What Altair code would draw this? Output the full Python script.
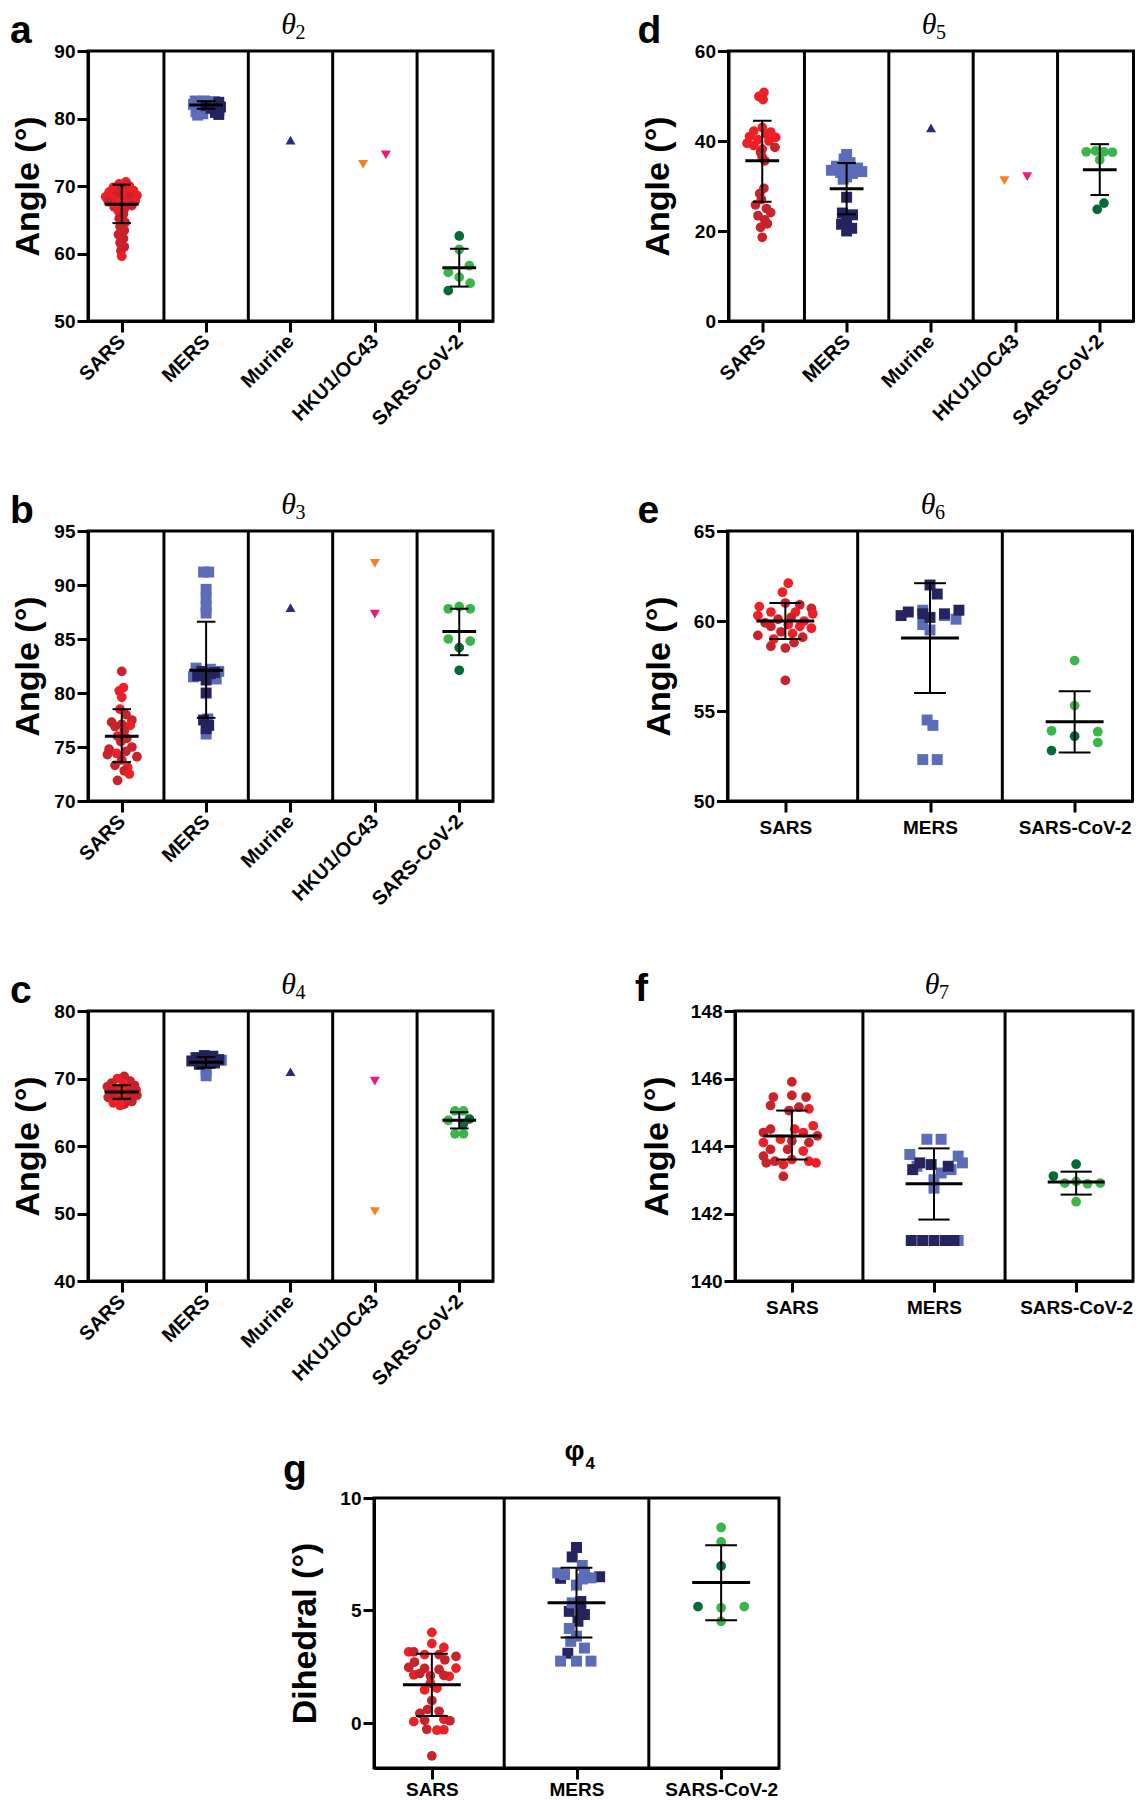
import altair as alt
import pandas as pd

SANS = "Liberation Sans"
SERIF = "Liberation Serif"

CATS5 = ["SARS", "MERS", "Murine", "HKU1/OC43", "SARS-CoV-2"]
CATS3 = ["SARS", "MERS", "SARS-CoV-2"]

# Each point: (value, horizontal jitter in category units, shade 0 = light / 1 = dark)
# ---------------- panel a : theta2
A_SARS = [(70.6, 0.05, 0), (70.3, -0.03, 0), (70.0, 0.09, 0), (69.8, -0.1, 0), (69.6, 0.0, 1), (69.3, 0.14, 0),
          (69.1, -0.15, 0), (68.9, 0.06, 0), (68.7, -0.06, 1), (68.6, 0.18, 0), (68.4, -0.19, 0), (68.3, 0.1, 1),
          (68.1, -0.11, 0), (68.0, 0.02, 0), (67.8, 0.16, 0), (67.7, -0.16, 1), (67.5, 0.07, 0), (67.3, -0.05, 0),
          (67.1, 0.12, 1), (66.9, -0.09, 0), (66.6, 0.03, 1), (66.3, -0.04, 0), (65.8, 0.02, 1), (65.2, -0.03, 1),
          (64.6, 0.04, 1), (64.0, -0.02, 1), (63.4, 0.03, 1), (62.8, -0.04, 1), (62.2, 0.02, 1), (61.6, -0.02, 1),
          (61.0, 0.03, 1), (60.4, -0.01, 1), (59.6, 0.0, 0)]
A_MERS = [(82.6, -0.13, 0), (82.6, -0.02, 0), (82.5, 0.1, 0), (82.3, -0.08, 0), (82.2, 0.05, 0), (82.1, -0.15, 0),
          (82.0, 0.12, 0), (81.8, -0.1, 0), (81.4, -0.05, 0), (81.0, -0.12, 0), (80.7, -0.04, 0), (80.5, -0.1, 0),
          (82.4, 0.15, 1), (81.9, 0.0, 1), (81.7, 0.17, 1), (81.5, 0.06, 1), (81.2, 0.15, 1), (80.9, 0.11, 1),
          (80.6, 0.15, 1)]
A_MURINE = [(76.8, 0.0, 0)]
A_HKU = [(73.2, -0.14, 0), (74.6, 0.13, 1)]
A_COV = [(62.6, 0.0, 1), (60.6, 0.0, 0), (58.2, 0.12, 0), (57.2, -0.13, 0), (56.5, 0.0, 0), (55.6, 0.13, 0),
         (54.5, -0.13, 1)]
A_STATS = {"SARS": (67.3, 64.5, 70.2), "MERS": (82.0, 81.45, 82.55), "SARS-CoV-2": (57.9, 55.1, 60.7)}

# ---------------- panel d : theta5
D_SARS = [(50.8, 0.02, 0), (49.9, -0.04, 0), (49.2, 0.01, 0), (43.0, 0.0, 0), (42.2, -0.1, 0), (42.0, 0.1, 0),
          (41.5, 0.05, 0), (41.0, -0.15, 0), (40.8, 0.16, 0), (40.3, -0.05, 0), (40.0, 0.08, 0), (39.5, -0.18, 0),
          (39.0, -0.1, 0), (38.6, 0.15, 1), (38.2, 0.0, 0), (37.5, -0.02, 1), (36.4, 0.0, 1), (35.6, 0.03, 1),
          (29.5, 0.02, 1), (28.3, -0.03, 1), (27.0, -0.01, 1), (25.8, -0.08, 1), (25.0, 0.05, 1), (24.1, 0.1, 1),
          (23.4, -0.05, 1), (22.5, 0.03, 1), (21.6, 0.06, 1), (20.8, -0.02, 1), (18.6, 0.0, 1)]
D_MERS = [(37.0, 0.0, 0), (36.0, -0.03, 0), (35.2, 0.04, 0), (34.4, -0.12, 0), (34.2, 0.0, 0), (34.0, 0.13, 0),
          (33.5, -0.18, 0), (33.2, 0.18, 0), (33.0, -0.07, 0), (32.8, 0.07, 0), (32.0, 0.0, 0), (31.5, -0.04, 0),
          (27.5, 0.0, 1), (24.0, -0.05, 1), (23.6, 0.07, 1), (22.8, 0.0, 1), (21.5, -0.06, 1), (20.6, 0.06, 1),
          (20.0, 0.0, 1)]
D_MURINE = [(42.9, 0.0, 0)]
D_HKU = [(31.2, -0.13, 0), (32.1, 0.14, 1)]
D_COV = [(37.6, -0.16, 0), (37.8, -0.05, 0), (37.6, 0.05, 0), (37.5, 0.15, 0), (35.8, 0.0, 0), (26.2, 0.05, 1),
         (24.8, -0.03, 1)]
D_STATS = {"SARS": (35.6, 26.5, 44.5), "MERS": (29.4, 23.7, 35.1), "SARS-CoV-2": (33.6, 28.0, 39.3)}

# ---------------- panel b : theta3
B_SARS = [(82.0, 0.0, 1), (80.5, 0.02, 0), (80.2, -0.03, 0), (79.6, 0.0, 0), (78.5, -0.02, 0), (78.0, 0.05, 1),
          (77.5, 0.12, 1), (77.3, -0.12, 1), (77.1, 0.0, 1), (77.0, 0.1, 0), (76.9, -0.08, 1), (76.5, 0.03, 1),
          (76.0, -0.05, 0), (75.8, 0.06, 1), (75.5, -0.01, 1), (75.0, 0.12, 1), (74.8, -0.15, 1), (74.6, 0.05, 1),
          (74.4, -0.06, 0), (74.3, -0.17, 1), (74.1, 0.18, 1), (73.8, 0.0, 1), (73.3, -0.08, 1), (73.1, 0.07, 0),
          (72.8, 0.03, 1), (72.5, 0.09, 0), (71.9, -0.05, 1)]
B_MERS = [(91.2, -0.03, 0), (91.2, 0.03, 0), (89.6, 0.0, 0), (88.8, 0.0, 0), (88.0, 0.0, 0), (87.4, 0.0, 0),
          (82.3, -0.12, 0), (82.0, 0.15, 0), (81.5, -0.15, 0), (81.3, 0.12, 0), (82.2, 0.05, 0), (77.6, 0.02, 0),
          (76.2, 0.0, 0), (82.0, -0.05, 1), (81.8, 0.05, 1), (81.6, -0.1, 1), (81.9, 0.1, 1), (81.2, 0.0, 1),
          (80.0, 0.0, 1), (77.5, -0.03, 1), (77.0, 0.03, 1), (76.7, 0.0, 1)]
B_MURINE = [(87.9, 0.0, 0)]
B_HKU = [(92.0, 0.0, 0), (87.3, 0.0, 1)]
B_COV = [(87.8, -0.13, 0), (88.0, 0.0, 0), (87.8, 0.13, 0), (85.0, -0.13, 0), (84.8, 0.13, 0), (84.2, 0.0, 1),
         (82.1, 0.0, 1)]
B_STATS = {"SARS": (76.0, 73.6, 78.5), "MERS": (82.1, 77.7, 86.6), "SARS-CoV-2": (85.7, 83.5, 87.8)}

# ---------------- panel e : theta6
E_SARS = [(62.1, 0.02, 0), (61.6, -0.02, 0), (61.0, 0.0, 1), (60.9, 0.1, 1), (60.8, -0.18, 0), (60.7, 0.18, 1),
          (60.5, -0.1, 0), (60.5, 0.07, 0), (60.4, 0.19, 0), (60.3, -0.19, 0), (60.2, 0.04, 1), (60.1, -0.05, 1),
          (60.0, 0.13, 0), (59.9, -0.14, 1), (59.8, 0.02, 0), (59.7, 0.1, 0), (59.7, -0.1, 1), (59.6, 0.18, 0),
          (59.4, -0.03, 1), (59.3, 0.05, 0), (59.2, -0.19, 1), (59.1, 0.12, 1), (59.0, -0.08, 0), (58.8, 0.06, 1),
          (58.6, -0.1, 1), (58.5, 0.0, 1), (56.7, 0.0, 1)]
E_MERS = [(60.6, -0.05, 0), (60.1, 0.18, 0), (59.8, -0.05, 0), (59.5, 0.0, 0), (60.3, 0.1, 0), (54.5, -0.02, 0),
          (54.2, 0.02, 0), (52.3, -0.05, 0), (52.3, 0.05, 0), (62.0, 0.0, 1), (61.5, 0.05, 1), (60.6, 0.2, 1),
          (60.5, -0.15, 1), (60.4, -0.05, 1), (60.4, 0.1, 1), (60.3, -0.2, 1), (60.2, 0.0, 1)]
E_COV = [(57.8, 0.0, 0), (55.3, 0.0, 0), (53.9, -0.16, 0), (53.85, 0.16, 0), (53.6, 0.0, 1), (53.25, 0.16, 0),
         (52.8, -0.16, 1)]
E_STATS = {"SARS": (60.0, 59.0, 61.0), "MERS": (59.05, 56.0, 62.1), "SARS-CoV-2": (54.4, 52.7, 56.1)}

# ---------------- panel c : theta4
C_SARS = [(70.3, 0.03, 1), (70.0, -0.05, 0), (69.6, 0.1, 1), (69.3, -0.12, 1), (69.2, 0.02, 0), (69.0, 0.15, 1),
          (68.8, -0.17, 1), (68.6, 0.06, 0), (68.5, -0.07, 1), (68.3, 0.17, 1), (68.1, -0.15, 1), (68.0, 0.0, 0),
          (67.9, 0.1, 1), (67.7, -0.1, 1), (67.5, 0.18, 1), (67.4, 0.03, 0), (67.2, -0.16, 1), (67.0, 0.09, 1),
          (66.8, -0.05, 1), (66.6, 0.12, 1), (66.4, -0.1, 0), (66.2, 0.03, 1), (66.0, -0.02, 0)]
C_MERS = [(72.7, 0.18, 0), (71.2, 0.0, 0), (70.4, 0.0, 0), (73.4, -0.02, 1), (73.3, 0.08, 1), (73.1, -0.12, 1),
          (72.8, 0.15, 1), (72.6, -0.17, 1), (72.5, 0.0, 1), (72.3, 0.1, 1), (72.1, -0.08, 1)]
C_MURINE = [(71.0, 0.0, 0)]
C_HKU = [(50.3, 0.0, 0), (69.6, 0.0, 1)]
C_COV = [(65.2, -0.05, 0), (65.2, 0.05, 0), (63.8, -0.13, 0), (61.8, -0.05, 0), (61.8, 0.05, 0), (64.0, 0.12, 1),
         (63.3, 0.05, 1)]
C_STATS = {"SARS": (68.0, 67.0, 69.0), "MERS": (72.4, 71.6, 73.2), "SARS-CoV-2": (63.8, 62.6, 65.0)}

# ---------------- panel f : theta7
F_SARS = [(145.9, 0.0, 1), (145.45, -0.13, 1), (145.5, 0.0, 1), (145.45, 0.1, 1), (145.2, -0.15, 1),
          (145.15, 0.05, 1), (145.1, 0.12, 0), (145.05, -0.02, 1), (144.6, 0.15, 0), (144.5, -0.15, 1),
          (144.5, 0.02, 0), (144.4, -0.2, 1), (144.4, 0.08, 0), (144.3, 0.18, 0), (144.2, -0.08, 0),
          (144.15, 0.0, 1), (144.1, -0.2, 0), (144.1, 0.12, 1), (143.9, -0.15, 1), (143.9, -0.03, 1),
          (143.85, 0.08, 0), (143.7, -0.2, 1), (143.6, 0.0, 0), (143.55, -0.12, 1), (143.55, 0.12, 0),
          (143.5, -0.18, 1), (143.5, 0.17, 0), (143.45, -0.06, 0), (143.1, -0.06, 1)]
F_MERS = [(144.2, -0.05, 0), (144.2, 0.05, 0), (143.75, -0.17, 0), (143.7, 0.17, 0), (143.5, 0.2, 0),
          (143.4, -0.12, 0), (143.3, 0.12, 0), (143.2, 0.05, 0), (143.0, 0.0, 0), (142.75, 0.0, 0),
          (141.2, 0.17, 0), (143.5, -0.1, 1), (143.45, -0.02, 1), (143.4, 0.1, 1), (143.3, -0.15, 1),
          (141.2, -0.16, 1), (141.2, -0.08, 1), (141.2, 0.0, 1), (141.2, 0.08, 1), (141.2, 0.14, 1)]
F_COV = [(143.46, 0.0, 1), (143.11, -0.16, 1), (142.9, -0.08, 0), (142.95, 0.0, 0), (142.88, 0.08, 0),
         (142.9, 0.17, 0), (142.35, 0.0, 0)]
F_STATS = {"SARS": (144.3, 143.6, 145.05), "MERS": (142.88, 141.82, 143.93), "SARS-CoV-2": (142.93, 142.56, 143.24)}

# ---------------- panel g : phi4
G_SARS = [(4.03, 0.0, 0), (3.53, 0.0, 0), (3.16, -0.16, 0), (3.16, -0.125, 1), (3.04, -0.05, 0), (3.36, 0.083, 0),
          (3.04, 0.05, 1), (2.96, 0.167, 1), (2.81, 0.09, 1), (2.71, -0.12, 1), (2.47, -0.16, 1), (2.44, 0.167, 0),
          (2.43, -0.05, 1), (2.38, 0.05, 1), (2.14, -0.125, 0), (2.2, -0.083, 1), (2.1, -0.01, 1), (2.07, 0.12, 0),
          (2.12, 0.083, 1), (1.77, -0.01, 0), (1.47, -0.05, 0), (1.55, 0.035, 0), (1.0, 0.0, 1), (0.6, -0.03, 1),
          (0.52, 0.05, 1), (0.43, -0.083, 1), (0.06, -0.125, 0), (0.12, -0.05, 1), (0.16, 0.083, 0),
          (0.1, 0.125, 1), (-0.28, -0.035, 1), (-0.32, 0.035, 0), (-0.3, 0.083, 0), (-1.46, 0.0, 1)]
G_MERS = [(7.8, 0.0, 1), (7.38, -0.03, 1), (6.5, 0.16, 1), (6.43, -0.11, 1), (7.0, 0.04, 0), (6.67, -0.13, 0),
          (6.6, -0.083, 0), (6.67, 0.055, 0), (6.45, 0.1, 0), (6.13, 0.0, 0), (6.4, 0.04, 0), (5.4, 0.03, 1),
          (4.96, -0.05, 1), (4.96, 0.03, 1), (4.82, 0.055, 1), (4.52, 0.01, 1), (5.34, -0.03, 0), (3.1, -0.06, 1),
          (4.2, -0.05, 0), (3.86, 0.0, 0), (3.63, -0.04, 0), (3.33, 0.055, 0), (2.75, -0.11, 0), (2.75, 0.0, 0),
          (2.75, 0.1, 0)]
G_COV = [(8.69, 0.0, 0), (8.05, 0.0, 0), (6.98, 0.0, 1), (5.17, -0.16, 1), (5.12, 0.0, 0), (5.17, 0.16, 0),
         (4.52, 0.0, 0)]
G_STATS = {"SARS": (1.7, 0.31, 3.08), "MERS": (5.35, 3.8, 6.9), "SARS-CoV-2": (6.24, 4.57, 7.9)}

# ---------------- styles
PALETTE = {
    "SARS": ("#EE1F25", "#C8222B"),
    "MERS": ("#5B6CB8", "#26245F"),
    "Murine": ("#2A2D7C", "#2A2D7C"),
    "HKU1/OC43": ("#F5821F", "#EC1A7B"),
    "SARS-CoV-2": ("#3BB54A", "#046A38"),
}
SHAPES = {"SARS": "circle", "MERS": "square", "Murine": "triangle-up",
          "HKU1/OC43": "triangle-down", "SARS-CoV-2": "circle"}
SIZES = {"SARS": 95, "MERS": 120, "Murine": 100, "HKU1/OC43": 100, "SARS-CoV-2": 95}


def points_frame(cats, groups):
    rows = []
    for cat, pts in groups.items():
        i = cats.index(cat)
        for v, dx, shade in pts:
            rows.append({"x": i + dx, "y": v, "color": PALETTE[cat][shade],
                         "shape": SHAPES[cat], "size": SIZES[cat]})
    return pd.DataFrame(rows)


def stats_frame(cats, stats):
    rows = []
    for cat, (m, lo, hi) in stats.items():
        i = cats.index(cat)
        rows.append({"x": i, "mean": m, "lo": lo, "hi": hi,
                     "ml": i - 0.2, "mr": i + 0.2, "cl": i - 0.11, "cr": i + 0.11})
    return pd.DataFrame(rows)


def text_mark(txt, x, y, size, font=SANS, weight="bold", style="normal", align="left"):
    return alt.Chart(alt.Data(values=[{"t": txt}])).mark_text(
        font=font, fontWeight=weight, fontStyle=style, fontSize=size, align=align,
        baseline="alphabetic", color="black").encode(text="t:N", x=alt.value(x), y=alt.value(y))


def panel(letter, head, sub, greek_serif, cats, groups, stats, ydom, yticks, ytitle,
          title_x, letter_x, letter_y, rotate=True, W=405, H=270, xpad=6):
    n = len(cats)
    xscale = alt.Scale(domain=[-0.4, n - 0.6], nice=False, zero=False)
    yscale = alt.Scale(domain=ydom, nice=False, zero=False)
    label_expr = "[" + ",".join("'%s'" % c for c in cats) + "][datum.value]"
    if rotate:
        xaxis = alt.Axis(values=list(range(n)), labelExpr=label_expr, title=None, labelOverlap=False,
                         labelAngle=-45, labelAlign="right", labelBaseline="middle", labelPadding=6,
                         labelFontSize=20)
    else:
        xaxis = alt.Axis(values=list(range(n)), labelExpr=label_expr, title=None, labelOverlap=False,
                         labelAngle=0, labelAlign="center", labelBaseline="top", labelPadding=xpad)
    yaxis = alt.Axis(values=yticks, title=ytitle, titleX=title_x, titleY=H / 2, titleAngle=-90,
                     titleAlign="center", titleBaseline="alphabetic", labelPadding=2, format="d",
                     labelOverlap=False)

    def X(f):
        return alt.X(f, type="quantitative", scale=xscale, axis=xaxis)

    def Y(f):
        return alt.Y(f, type="quantitative", scale=yscale, axis=yaxis)

    divs = pd.DataFrame({"d": [k + 0.5 for k in range(n - 1)]})
    dividers = alt.Chart(divs).mark_rule(color="black", strokeWidth=3).encode(
        x=X("d"), y=alt.value(0), y2=alt.value(H))

    pts = alt.Chart(points_frame(cats, groups)).mark_point(
        filled=True, opacity=1, strokeWidth=0).encode(
        x=X("x"), y=Y("y"),
        color=alt.Color("color:N", scale=None),
        shape=alt.Shape("shape:N", scale=None),
        size=alt.Size("size:Q", scale=None))

    st = alt.Chart(stats_frame(cats, stats))
    mean_rule = st.mark_rule(color="black", strokeWidth=3).encode(x=X("ml"), x2="mr", y=Y("mean"))
    whisker = st.mark_rule(color="black", strokeWidth=2).encode(x=X("x"), y=Y("lo"), y2="hi")
    cap_lo = st.mark_rule(color="black", strokeWidth=2).encode(x=X("cl"), x2="cr", y=Y("lo"))
    cap_hi = st.mark_rule(color="black", strokeWidth=2).encode(x=X("cl"), x2="cr", y=Y("hi"))

    lab = text_mark(letter, letter_x, letter_y, 39)
    if greek_serif:
        g1 = text_mark(head, W / 2 - 2, -17, 30, font=SERIF, weight="normal", style="italic", align="center")
        g2 = text_mark(sub, W / 2 + 5, -12, 20, font=SERIF, weight="normal", align="left")
    else:
        g1 = text_mark(head, W / 2 - 2, -38, 28, align="center")
        g2 = text_mark(sub, W / 2 + 9, -29, 17, align="left")

    return alt.layer(dividers, pts, whisker, cap_lo, cap_hi, mean_rule, lab, g1, g2).properties(
        width=W, height=H)


pa = panel("a", "θ", "2", True, CATS5,
           {"SARS": A_SARS, "MERS": A_MERS, "Murine": A_MURINE, "HKU1/OC43": A_HKU, "SARS-CoV-2": A_COV},
           A_STATS, [50, 90], [50, 60, 70, 80, 90], "Angle (°)", -50, -78, -8)
pd_ = panel("d", "θ", "5", True, CATS5,
            {"SARS": D_SARS, "MERS": D_MERS, "Murine": D_MURINE, "HKU1/OC43": D_HKU, "SARS-CoV-2": D_COV},
            D_STATS, [0, 60], [0, 20, 40, 60], "Angle (°)", -60, -91, -8)
pb = panel("b", "θ", "3", True, CATS5,
           {"SARS": B_SARS, "MERS": B_MERS, "Murine": B_MURINE, "HKU1/OC43": B_HKU, "SARS-CoV-2": B_COV},
           B_STATS, [70, 95], [70, 75, 80, 85, 90, 95], "Angle (°)", -50, -78, -8)
pe = panel("e", "θ", "6", True, CATS3,
           {"SARS": E_SARS, "MERS": E_MERS, "SARS-CoV-2": E_COV},
           E_STATS, [50, 65], [50, 55, 60, 65], "Angle (°)", -58, -90, -8, rotate=False)
pc = panel("c", "θ", "4", True, CATS5,
           {"SARS": C_SARS, "MERS": C_MERS, "Murine": C_MURINE, "HKU1/OC43": C_HKU, "SARS-CoV-2": C_COV},
           C_STATS, [40, 80], [40, 50, 60, 70, 80], "Angle (°)", -50, -78, -8)
pf = panel("f", "θ", "7", True, CATS3,
           {"SARS": F_SARS, "MERS": F_MERS, "SARS-CoV-2": F_COV},
           F_STATS, [140, 148], [140, 142, 144, 146, 148], "Angle (°)", -68, -100, -10, rotate=False, W=398)
pg = panel("g", "φ", "4", False, CATS3,
           {"SARS": G_SARS, "MERS": G_MERS, "SARS-CoV-2": G_COV},
           G_STATS, [-2, 10], [0, 5, 10], "Dihedral (°)", -59, -91, -16, rotate=False, xpad=1)


def spacer(w, h):
    return alt.Chart(alt.Data(values=[{"s": 0}])).mark_point(opacity=0).encode(
        x=alt.value(0), y=alt.value(0)).properties(
        width=w, height=h, view=alt.ViewBackground(strokeOpacity=0))


row1 = alt.hconcat(pa, pd_, spacing=140.5)
row2 = alt.hconcat(pb, pe, spacing=140.5)
row3 = alt.hconcat(pc, pf, spacing=138)
row4 = alt.hconcat(spacer(173, 270), pg, spacing=20)
upper = alt.vconcat(row1, row2, row3, spacing=57)

chart = alt.vconcat(upper, row4, spacing=45, padding=0).configure(font=SANS).configure_view(
    stroke="black", strokeWidth=3
).configure_axis(
    domainColor="black", domainWidth=3, tickColor="black", tickWidth=3, tickSize=11,
    labelFont=SANS, labelFontSize=19, labelFontWeight="bold", labelColor="black",
    titleFont=SANS, titleFontSize=34, titleFontWeight="bold", titleColor="black",
    grid=False
)

chart.save("out.html", embed_options={"renderer": "svg", "actions": False})
